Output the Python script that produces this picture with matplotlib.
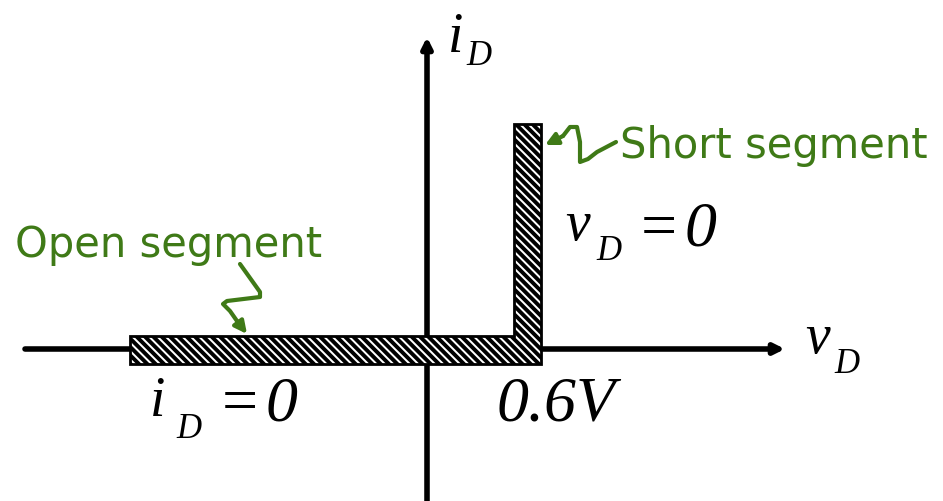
import matplotlib.pyplot as plt
from matplotlib.patches import Polygon

plt.rcParams['hatch.linewidth'] = 2.8

# diagram layout (pixel units, y grows downward)
origin = (427, 350)
x_axis = [25, 785]
y_axis = [502, 38]
# L-shaped characteristic: open segment along v axis + short segment at 0.6V
ideal_curve_x = [130, 514, 514, 541, 541, 130]
ideal_curve_y = [337, 337, 125, 125, 365, 365]

# squiggly pointer arrows
short_arrow_x = [616, 597, 588, 580, 580, 577, 570, 563, 545]
short_arrow_y = [143, 153, 160, 163, 143, 128, 128, 137, 146]
open_arrow_x = [240, 260, 260, 227, 223, 230, 237, 247]
open_arrow_y = [265, 293, 298, 302, 305, 312, 322, 335]

# labels: main letter, x, baseline, subscript x, subscript baseline, '=' x, '0' x, baseline
labels = [
    ('i', 448, 52, 466, 65, None, None, 0),
    ('v', 805, 353, 834, 373, None, None, 0),
    ('v', 565, 240, 596, 260, 637, 685, 246),
    ('i', 150, 416, 176, 438, 218, 266, 421),
]
knee_label = '0.6V'

green = '#3f7a17'
serif = dict(family='Liberation Serif', style='italic', color='black')

fig = plt.figure(figsize=(9.43, 5.02), dpi=100)
ax = fig.add_axes([0, 0, 1, 1])
ax.set_xlim(0, 943)
ax.set_ylim(502, 0)
ax.axis('off')

# axes with arrows
ax.annotate('', xy=(x_axis[1], origin[1]), xytext=(x_axis[0], origin[1]),
            arrowprops=dict(arrowstyle='-|>', lw=4, color='black', mutation_scale=15,
                            shrinkA=0, shrinkB=0), zorder=1)
ax.annotate('', xy=(origin[0], y_axis[1]), xytext=(origin[0], y_axis[0]),
            arrowprops=dict(arrowstyle='-|>', lw=4, color='black', mutation_scale=15,
                            shrinkA=0, shrinkB=0), zorder=1)

poly = Polygon(list(zip(ideal_curve_x, ideal_curve_y)), closed=True,
               facecolor='white', edgecolor='black', hatch='\\\\\\\\', lw=2, zorder=2)
ax.add_patch(poly)

# squiggles
for xs, ys in [(short_arrow_x, short_arrow_y), (open_arrow_x, open_arrow_y)]:
    ax.plot(xs[:-1], ys[:-1], color=green, lw=3, solid_joinstyle='round',
            solid_capstyle='round', zorder=3)
    ax.annotate('', xy=(xs[-1], ys[-1]), xytext=(xs[-2], ys[-2]),
                arrowprops=dict(arrowstyle='-|>', lw=3, color=green, mutation_scale=18,
                                shrinkA=0, shrinkB=0), zorder=3)

# math labels
for main, mx, my, sx, sy, ex, zx, ry in labels:
    ax.text(mx, my, main, fontsize=40, ha='left', va='baseline', **serif)
    ax.text(sx, sy, 'D', fontsize=25, ha='left', va='baseline', **serif)
    if ex is not None:
        ax.text(ex, ry, '=', fontsize=46, ha='left', va='baseline', **serif)
        ax.text(zx, ry, '0', fontsize=46, ha='left', va='baseline', **serif)
ax.text(497, 421, knee_label, fontsize=46, ha='left', va='baseline', **serif)

# green annotations
ax.text(620, 158, 'Short segment', fontsize=30, color=green, ha='left', va='baseline',
        family='DejaVu Sans')
ax.text(15, 257, 'Open segment', fontsize=30, color=green, ha='left', va='baseline',
        family='DejaVu Sans')

fig.savefig('out.png', dpi=100, facecolor='white')
